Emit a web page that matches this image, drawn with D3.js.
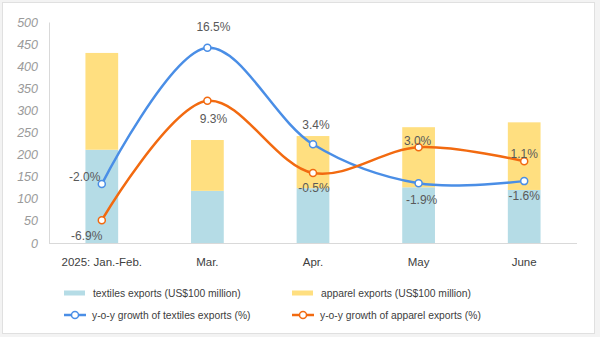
<!DOCTYPE html>
<html>
<head>
<meta charset="utf-8">
<script src="https://cdn.jsdelivr.net/npm/d3@7"></script>
<style>
  html, body { margin: 0; padding: 0; background: #f3f3f3; }
  svg { display: block; font-family: "Liberation Sans", Arial, sans-serif; }
</style>
</head>
<body>
<svg width="600" height="337"></svg>
<script>
// données
const months = ['2025: Jan.-Feb.', 'Mar.', 'Apr.', 'May', 'June'];
const textiles = [211, 118, 124, 126, 120];
const apparel = [219, 115, 118, 136, 153];
const textilesGrowth = [-2.0, 16.5, 3.4, -1.9, -1.6];
const apparelGrowth = [-6.9, 9.3, -0.5, 3.0, 1.1];
const yTicks = [0, 50, 100, 150, 200, 250, 300, 350, 400, 450, 500];

// placement des étiquettes (dx, dy par rapport au point)
const textilesLabelPos = [[-17, -7], [6, -21], [3, -19], [3, 16], [0, 15]];
const apparelLabelPos = [[-15, 16], [6, 18], [1, 15], [-1, -6], [0, -7]];

const svg = d3.select('svg');

const colTextiles = '#b5dce6';
const colApparel = '#ffdf80';
const colBlue = '#4a8ee6';
const colOrange = '#f26a10';

// cadre blanc
svg.append('rect')
  .attr('x', 2.5).attr('y', 2.5)
  .attr('width', 592).attr('height', 331)
  .attr('fill', '#fff')
  .attr('stroke', '#e0e0e0');

const plot = { left: 49, right: 577, top: 22, bottom: 243 };

// échelles
const x = d3.scaleBand()
  .domain(months)
  .range([plot.left, plot.right])
  .paddingInner(0.69)
  .paddingOuter(0.345);

const xc = d => x(d) + x.bandwidth() / 2;

const y = d3.scaleLinear()
  .domain([0, 500])
  .range([plot.bottom, plot.top]);

// axe secondaire (non affiché) pour les pourcentages
const y2 = d3.scaleLinear()
  .domain([-10, 20])
  .range([plot.bottom, plot.top]);

// trait d'union plutôt que le signe moins unicode
const pct = d => d.toFixed(1) + '%';

// axe Y
const yAxis = svg.append('g')
  .attr('transform', `translate(${plot.left},0)`)
  .call(d3.axisLeft(y).tickValues(yTicks).tickSize(0).tickPadding(11));
yAxis.select('.domain').attr('stroke', '#d9d9d9');
yAxis.selectAll('text')
  .attr('fill', '#9a9a9a')
  .style('font-size', '12.5px')
  .style('font-style', 'italic')
  .style('font-family', '"Liberation Sans", Arial, sans-serif');

// axe X
svg.append('line')
  .attr('x1', plot.left).attr('x2', plot.right)
  .attr('y1', plot.bottom + 0.5).attr('y2', plot.bottom + 0.5)
  .attr('stroke', '#d9d9d9');

svg.append('g').selectAll('text')
  .data(months)
  .join('text')
  .attr('x', d => xc(d))
  .attr('y', 266)
  .attr('text-anchor', 'middle')
  .attr('fill', '#404040')
  .style('font-size', '11.5px')
  .text(d => d);

// barres empilées
const stacked = months.map((m, i) => ({ month: m, textiles: textiles[i], apparel: apparel[i] }));
const series = d3.stack().keys(['textiles', 'apparel'])(stacked);
const colors = { textiles: colTextiles, apparel: colApparel };

svg.append('g').selectAll('g')
  .data(series)
  .join('g')
  .attr('fill', s => colors[s.key])
  .selectAll('rect')
  .data(s => s)
  .join('rect')
  .attr('x', d => x(d.data.month))
  .attr('width', x.bandwidth())
  .attr('y', d => y(d[1]))
  .attr('height', d => y(d[0]) - y(d[1]));

// courbes
const line = d3.line()
  .x((d, i) => xc(months[i]))
  .y(d => y2(d))
  .curve(d3.curveCatmullRom.alpha(0.5));

function drawSeries(values, color, labelPos) {
  svg.append('path')
    .attr('d', line(values))
    .attr('fill', 'none')
    .attr('stroke', color)
    .attr('stroke-width', 2.5);

  svg.append('g').selectAll('circle')
    .data(values)
    .join('circle')
    .attr('cx', (d, i) => xc(months[i]))
    .attr('cy', d => y2(d))
    .attr('r', 3.5)
    .attr('fill', '#fff')
    .attr('stroke', color)
    .attr('stroke-width', 1.5);

  svg.append('g').selectAll('text')
    .data(values)
    .join('text')
    .attr('x', (d, i) => xc(months[i]) + labelPos[i][0])
    .attr('y', (d, i) => y2(d) + labelPos[i][1])
    .attr('dy', '0.35em')
    .attr('text-anchor', 'middle')
    .attr('fill', '#595959')
    .style('font-size', '12px')
    .text(pct);
}

drawSeries(textilesGrowth, colBlue, textilesLabelPos);
drawSeries(apparelGrowth, colOrange, apparelLabelPos);

// légende
const legend = svg.append('g').style('font-size', '10.3px');
const legendItems = [
  { label: 'textiles exports (US$100 million)', type: 'bar', color: colTextiles, x: 64, y: 293 },
  { label: 'apparel exports (US$100 million)', type: 'bar', color: colApparel, x: 292, y: 293 },
  { label: 'y-o-y growth of textiles exports (%)', type: 'line', color: colBlue, x: 64, y: 315 },
  { label: 'y-o-y growth of apparel exports (%)', type: 'line', color: colOrange, x: 292, y: 315 }
];

legendItems.forEach(it => {
  const g = legend.append('g').attr('transform', `translate(${it.x},${it.y})`);
  if (it.type === 'bar') {
    g.append('rect').attr('x', 0).attr('y', -2.5).attr('width', 21).attr('height', 5).attr('fill', it.color);
  } else {
    g.append('line').attr('x1', 0).attr('x2', 22).attr('y1', 0).attr('y2', 0)
      .attr('stroke', it.color).attr('stroke-width', 2.5);
    g.append('circle').attr('cx', 11).attr('cy', 0).attr('r', 3.5)
      .attr('fill', '#fff').attr('stroke', it.color).attr('stroke-width', 1.5);
  }
  g.append('text')
    .attr('x', it.type === 'bar' ? 29 : 28)
    .attr('y', 0)
    .attr('dy', '0.35em')
    .attr('fill', '#404040')
    .text(it.label);
});
</script>
</body>
</html>
